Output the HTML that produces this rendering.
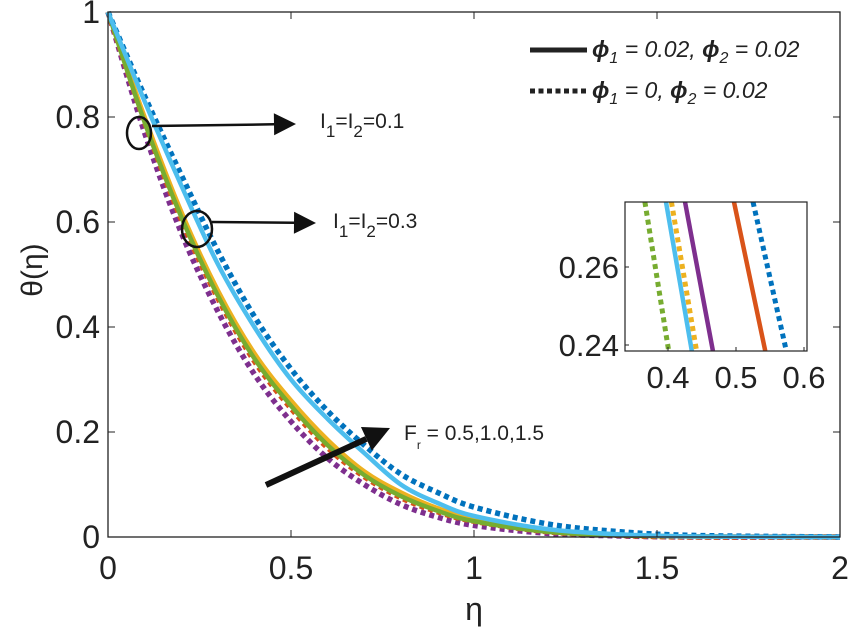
<!DOCTYPE html>
<html><head><meta charset="utf-8"><style>
body{margin:0;background:#fff;}
svg{display:block;font-family:"Liberation Sans",sans-serif;}
</style></head><body>
<svg id="chart" width="848" height="631" viewBox="0 0 848 631">
<rect width="848" height="631" fill="#fff"/>
<g id="main"></g>
<g id="inset"></g>
</svg>
<script>
const etas=[0,0.1,0.2,0.3,0.4,0.5,0.6,0.7,0.8,0.9,1.0,1.2,1.4,1.6,2.0];
const lightBlueSolid=[1,0.83,0.67,0.52,0.40,0.30,0.225,0.16,0.10,0.065,0.04,0.015,0.005,0.001,0];
const blueDotted=[1,0.84,0.69,0.545,0.42,0.32,0.24,0.175,0.12,0.085,0.057,0.025,0.01,0.003,0];
const redDotted=[1,0.79,0.605,0.455,0.335,0.245,0.17,0.115,0.075,0.048,0.03,0.01,0.003,0,0];
const orangeSolid=[1,0.80,0.62,0.47,0.35,0.26,0.185,0.125,0.085,0.055,0.035,0.012,0.004,0.001,0];
const greenSolid=[1,0.79,0.61,0.46,0.34,0.25,0.175,0.118,0.078,0.05,0.03,0.01,0.003,0.001,0];
const purpleDotted=[1,0.77,0.58,0.43,0.31,0.22,0.15,0.10,0.062,0.038,0.022,0.007,0.002,0,0];
const xTicks=[0,0.5,1,1.5,2];
const xTickLabels=["0","0.5","1","1.5","2"];
const yTicks=[0,0.2,0.4,0.6,0.8,1];
const yTickLabels=["0","0.2","0.4","0.6","0.8","1"];
const insetTheta=[0.2767,0.2385];
const insetGreenDotted=[0.366,0.401];
const insetLightBlueSolid=[0.397,0.435];
const insetOrangeDotted=[0.405,0.442];
const insetPurpleSolid=[0.425,0.466];
const insetRedSolid=[0.497,0.543];
const insetBlueDotted=[0.525,0.574];
const insetXTicks=[0.4,0.5,0.6];
const insetXTickLabels=["0.4","0.5","0.6"];
const insetYTicks=[0.24,0.26];
const insetYTickLabels=["0.24","0.26"];

const NS="http://www.w3.org/2000/svg";
function mk(parent,tag,attrs,text){const e=document.createElementNS(NS,tag);for(const k in attrs)e.setAttribute(k,attrs[k]);if(text!==undefined)e.textContent=text;parent.appendChild(e);return e;}
const X0=108,X1=840,Y0=537,Y1=12;
const sx=v=>X0+(v-0)/(2-0)*(X1-X0);
const sy=v=>Y0-(v-0)/(1-0)*(Y0-Y1);
const main=document.getElementById('main');

const series=[
 {d:purpleDotted,c:"#7e2f8e",dash:true,n:"purple-dotted-line"},
 {d:redDotted,c:"#d95319",dash:true,n:"red-dotted-line"},
 {d:orangeSolid,c:"#edb120",dash:false,n:"orange-solid-line"},
 {d:greenSolid,c:"#77ac30",dash:false,n:"green-solid-line"},
 {d:blueDotted,c:"#0072bd",dash:true,n:"blue-dotted-line"},
 {d:lightBlueSolid,c:"#4dbeee",dash:false,n:"light-blue-solid-line"}
];
function smoothPath(xs,ys,fx,fy){
 const p=xs.map((x,i)=>[fx(x),fy(ys[i])]);
 let d="M"+p[0][0]+","+p[0][1];
 for(let i=0;i<p.length-1;i++){
  const p0=p[i-1]||p[i],p1=p[i],p2=p[i+1],p3=p[i+2]||p2;
  const c1=[p1[0]+(p2[0]-p0[0])/6,p1[1]+(p2[1]-p0[1])/6];
  const c2=[p2[0]-(p3[0]-p1[0])/6,p2[1]-(p3[1]-p1[1])/6];
  d+=" C"+c1[0]+","+c1[1]+" "+c2[0]+","+c2[1]+" "+p2[0]+","+p2[1];
 }
 return d;
}
series.forEach(s=>{
 const el=mk(main,'path',{d:smoothPath(etas,s.d,sx,sy),fill:"none",stroke:s.c,"stroke-width":s.dash?5.5:4.5,"stroke-dasharray":s.dash?"5 4":"none"});
 
 
});

const box=mk(main,'rect',{x:X0,y:Y1,width:X1-X0,height:Y0-Y1,fill:"none",stroke:"#222","stroke-width":1.3});


xTicks.forEach((t,i)=>{
 mk(main,'line',{x1:sx(t),x2:sx(t),y1:Y0,y2:Y0-7,stroke:"#222"});
 mk(main,'line',{x1:sx(t),x2:sx(t),y1:Y1,y2:Y1+7,stroke:"#222"});
 const tl=mk(main,'text',{x:sx(t),y:Y0+42,"text-anchor":"middle","font-size":32,fill:"#222"},xTickLabels[i]);
 
 
});
yTicks.forEach((t,i)=>{
 mk(main,'line',{x1:X0,x2:X0+7,y1:sy(t),y2:sy(t),stroke:"#222"});
 mk(main,'line',{x1:X1,x2:X1-7,y1:sy(t),y2:sy(t),stroke:"#222"});
 const tl=mk(main,'text',{x:X0-8,y:sy(t)+11,"text-anchor":"end","font-size":32,fill:"#222"},yTickLabels[i]);
 
 
});
const xt=mk(main,'text',{x:474,y:620,"text-anchor":"middle","font-size":32,fill:"#222"},"η");


const yt=mk(main,'text',{x:42,y:270,"text-anchor":"middle","font-size":30,fill:"#222",transform:"rotate(-90 42 270)"},"θ(η)");



function arrow(x1,y1,x2,y2,w,head,name){
 const g=mk(main,'g',{});
 
 
 const a=Math.atan2(y2-y1,x2-x1);
 const bx=x2-head*Math.cos(a),by=y2-head*Math.sin(a);
 mk(g,'line',{x1:x1,y1:y1,x2:bx,y2:by,stroke:"#111","stroke-width":w});
 const px=-Math.sin(a)*head*0.5,py=Math.cos(a)*head*0.5;
 mk(g,'polygon',{points:`${x2},${y2} ${bx+px},${by+py} ${bx-px},${by-py}`,fill:"#111"});
}
const c1=mk(main,'ellipse',{cx:139,cy:133,rx:12,ry:16,fill:"none",stroke:"#111","stroke-width":2.5});


arrow(152,126,296,124,2.5,22,"annotation-arrow-1");
const t1=mk(main,'text',{x:320,y:128,"font-size":21,fill:"#222"});


t1.innerHTML='I<tspan dy="9" font-size="17">1</tspan><tspan dy="-9">=I</tspan><tspan dy="9" font-size="17">2</tspan><tspan dy="-9">=0.1</tspan>';
const c2=mk(main,'ellipse',{cx:197,cy:229,rx:15,ry:18,fill:"none",stroke:"#111","stroke-width":2.5});


arrow(212,222,316,223,2.5,22,"annotation-arrow-2");
const t2=mk(main,'text',{x:333,y:228,"font-size":21,fill:"#222"});


t2.innerHTML='I<tspan dy="9" font-size="17">1</tspan><tspan dy="-9">=I</tspan><tspan dy="9" font-size="17">2</tspan><tspan dy="-9">=0.3</tspan>';
arrow(266,485,390,428,6,26,"fr-arrow");
const t3=mk(main,'text',{x:404,y:440,"font-size":21,fill:"#222"});


t3.innerHTML='F<tspan dy="9" font-size="12">r</tspan><tspan dy="-9"> = 0.5,1.0,1.5</tspan>';

const lg=mk(main,'g',{});


mk(lg,'line',{x1:530,x2:587,y1:50,y2:50,stroke:"#222","stroke-width":5});
mk(lg,'line',{x1:530,x2:587,y1:91,y2:91,stroke:"#222","stroke-width":5,"stroke-dasharray":"5 3.5"});
const l1=mk(lg,'text',{x:592,y:57,"font-size":23,"font-style":"italic",fill:"#222"});


l1.innerHTML='<tspan font-weight="bold">ϕ</tspan><tspan dy="6" font-size="16">1</tspan><tspan dy="-6"> = 0.02, </tspan><tspan font-weight="bold">ϕ</tspan><tspan dy="6" font-size="16">2</tspan><tspan dy="-6"> = 0.02</tspan>';
const l2=mk(lg,'text',{x:592,y:98,"font-size":23,"font-style":"italic",fill:"#222"});


l2.innerHTML='<tspan font-weight="bold">ϕ</tspan><tspan dy="6" font-size="16">1</tspan><tspan dy="-6"> = 0, </tspan><tspan font-weight="bold">ϕ</tspan><tspan dy="6" font-size="16">2</tspan><tspan dy="-6"> = 0.02</tspan>';

const inset=document.getElementById('inset');


const IX0=625,IX1=807,IY0=351,IY1=202;
const ixs=v=>668+(v-0.4)*680;
const iys=v=>345-(v-0.24)*3900;
mk(inset,'rect',{x:IX0,y:IY1,width:IX1-IX0,height:IY0-IY1,fill:"#fff"});
const iser=[
 {d:insetGreenDotted,c:"#77ac30",dash:true,n:"inset-green-dotted"},
 {d:insetLightBlueSolid,c:"#4dbeee",dash:false,n:"inset-light-blue-solid"},
 {d:insetOrangeDotted,c:"#edb120",dash:true,n:"inset-orange-dotted"},
 {d:insetPurpleSolid,c:"#7e2f8e",dash:false,n:"inset-purple-solid"},
 {d:insetRedSolid,c:"#d95319",dash:false,n:"inset-red-solid"},
 {d:insetBlueDotted,c:"#0072bd",dash:true,n:"inset-blue-dotted"}
];
iser.forEach(s=>{
 const el=mk(inset,'line',{x1:ixs(s.d[0]),y1:iys(insetTheta[0]),x2:ixs(s.d[1]),y2:iys(insetTheta[1]),stroke:s.c,"stroke-width":s.dash?5:4.5,"stroke-dasharray":s.dash?"5 4":"none"});
 
 
});
const ib=mk(inset,'rect',{x:IX0,y:IY1,width:IX1-IX0,height:IY0-IY1,fill:"none",stroke:"#222","stroke-width":1.2});


insetXTicks.forEach((t,i)=>{
 mk(inset,'line',{x1:ixs(t),x2:ixs(t),y1:IY0,y2:IY0-4,stroke:"#222"});
 const tl=mk(inset,'text',{x:ixs(t),y:IY0+37,"text-anchor":"middle","font-size":31,fill:"#222"},insetXTickLabels[i]);
 
 
});
insetYTicks.forEach((t,i)=>{
 mk(inset,'line',{x1:IX0,x2:IX0+4,y1:iys(t),y2:iys(t),stroke:"#222"});
 const tl=mk(inset,'text',{x:IX0-6,y:iys(t)+11,"text-anchor":"end","font-size":31,fill:"#222"},insetYTickLabels[i]);
 
 
});
</script>
</body></html>
